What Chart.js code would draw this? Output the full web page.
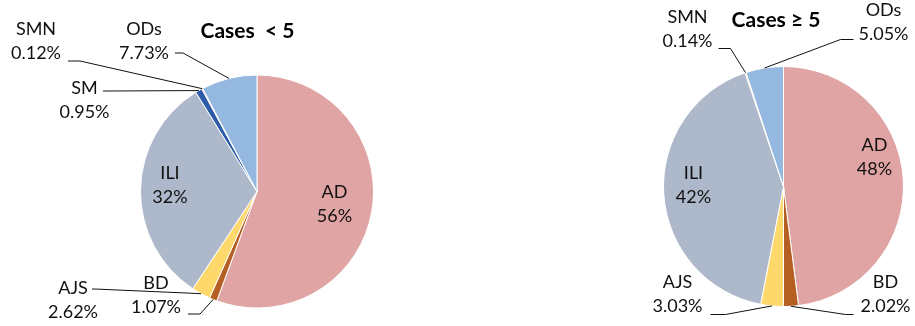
<!DOCTYPE html>
<html>
<head>
<meta charset="utf-8">
<script src="https://cdn.jsdelivr.net/npm/chart.js@4"></script>
<style>
  body { margin: 0; background: #fff; }
  #wrap { position: relative; width: 915px; height: 326px; }
  canvas { position: absolute; top: 0; }
</style>
</head>
<body>
<div id="wrap">
  <canvas id="pieSmall" width="460" height="326" style="left:0"></canvas>
  <canvas id="pieLarge" width="455" height="326" style="left:460px"></canvas>
</div>
<script>
// shares (%) per category, clockwise from 12 o'clock
var categories = ['AD', 'BD', 'AJS', 'ILI', 'SM', 'SMN', 'ODs'];
var casesUnder5 = [55.6, 1.07, 2.62, 31.91, 0.95, 0.12, 7.73];
var casesFrom5 = [48.0, 2.02, 3.03, 41.76, 0, 0.14, 5.05];

var sliceColors = ['#e0a4a4', '#b55f22', '#fed86b', '#adb9ca', '#2e5ca8', '#ed7d31', '#95b8e0'];

// label spots, relative to the pie centre: text centre, then leader start + elbow (null = inside label)
var spotsUnder5 = [
  { t: [77.5, 13] },
  { t: [-101, 103.5], l: [[-69, 122.5], [-57, 122.5]] },
  { t: [-184, 108.5], l: [[-165, 97.5], [-160, 97.6]] },
  { t: [-87, -6] },
  { t: [-172.5, -91], l: [[-154, -100.5], [-150, -100.5]] },
  { t: [-221, -150.5], l: [[-189, -130.5], [-177, -130.5]] },
  { t: [-113, -150.5], l: [[-82, -138.5], [-74, -138.5]] }
];
var spotsFrom5 = [
  { t: [91, -29] },
  { t: [102, 108], l: [[70, 128], [62, 128]] },
  { t: [-106, 108], l: [[-73, 128], [-58, 128]] },
  { t: [-90, -1] },
  null,
  { t: [-96, -157], l: [[-65, -138], [-53, -138]] },
  { t: [100, -164], l: [[70, -147], [57, -147]] }
];

function pct(v) {
  return v >= 10 ? Math.round(v) + '%' : v.toFixed(2) + '%';
}

var labelPlugin = {
  id: 'pieLabels',
  afterDraw: function (chart) {
    var ctx = chart.ctx;
    var opts = chart.options.plugins.pieLabels;
    var meta = chart.getDatasetMeta(0);
    var values = chart.data.datasets[0].data;
    ctx.save();
    ctx.textAlign = 'center';
    ctx.textBaseline = 'middle';
    ctx.fillStyle = '#111';
    ctx.strokeStyle = '#111';
    ctx.lineWidth = 1;
    meta.data.forEach(function (arc, i) {
      var spot = opts.spots[i];
      if (!spot || !values[i]) return;
      var cx = arc.x, cy = arc.y;
      if (spot.l) {
        var mid = (arc.startAngle + arc.endAngle) / 2;
        ctx.beginPath();
        ctx.moveTo(cx + spot.l[0][0], cy + spot.l[0][1]);
        ctx.lineTo(cx + spot.l[1][0], cy + spot.l[1][1]);
        ctx.lineTo(cx + arc.outerRadius * Math.cos(mid), cy + arc.outerRadius * Math.sin(mid));
        ctx.stroke();
      }
      ctx.font = '18px Lato';
      ctx.fillText(chart.data.labels[i], cx + spot.t[0], cy + spot.t[1] - 12);
      ctx.fillText(pct(values[i]), cx + spot.t[0], cy + spot.t[1] + 12);
    });
    ctx.font = 'bold 21px Lato';
    ctx.fillStyle = '#000';
    ctx.fillText(opts.title, opts.titleAt[0], opts.titleAt[1]);
    ctx.restore();
  }
};

function makePie(id, values, spots, title, titleAt, pad) {
  return new Chart(document.getElementById(id), {
    type: 'pie',
    data: {
      labels: categories,
      datasets: [{
        data: values,
        backgroundColor: sliceColors,
        borderColor: '#fff',
        borderWidth: 1
      }]
    },
    options: {
      responsive: false,
      animation: false,
      layout: { padding: pad },
      plugins: {
        legend: { display: false },
        tooltip: { enabled: false },
        pieLabels: { spots: spots, title: title, titleAt: titleAt }
      }
    },
    plugins: [labelPlugin]
  });
}

makePie('pieSmall', casesUnder5, spotsUnder5, 'Cases  < 5', [247.5, 31],
  { left: 140, right: 86, top: 74.5, bottom: 17.5 });
makePie('pieLarge', casesFrom5, spotsFrom5, 'Cases \u2265 5', [316, 20],
  { left: 203, right: 11, top: 66, bottom: 19 });
</script>
</body>
</html>
